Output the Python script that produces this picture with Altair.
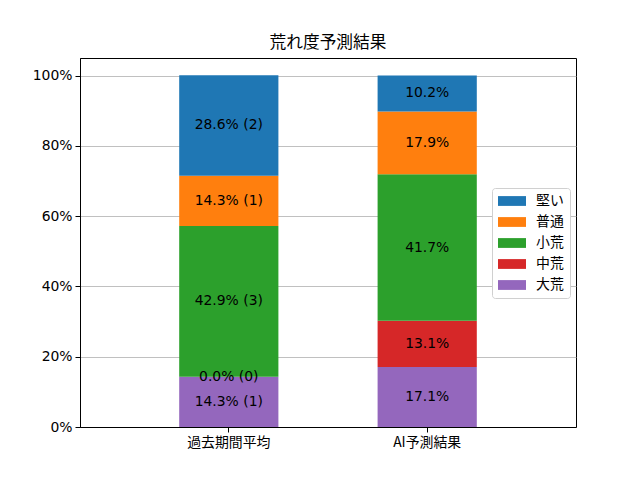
import altair as alt
import pandas as pd

categories = ["過去期間平均", "AI予測結果"]
levels = ["大荒", "中荒", "小荒", "普通", "堅い"]  # bottom to top
legend_order = ["堅い", "普通", "小荒", "中荒", "大荒"]
colors = ["#1f77b4", "#ff7f0e", "#2ca02c", "#d62728", "#9467bd"]

past_pct = [14.3, 0.0, 42.9, 14.3, 28.6]
past_count = [1, 0, 3, 1, 2]
ai_pct = [17.1, 13.1, 41.7, 17.9, 10.2]

rows = []
for i, lv in enumerate(levels):
    rows.append({"cat": categories[0], "level": lv, "ord": i,
                 "pct": past_pct[i], "label": f"{past_pct[i]:.1f}% ({past_count[i]})"})
for i, lv in enumerate(levels):
    rows.append({"cat": categories[1], "level": lv, "ord": i,
                 "pct": ai_pct[i], "label": f"{ai_pct[i]:.1f}%"})
df = pd.DataFrame(rows)

FONT = "DejaVu Sans, Noto Sans CJK JP"
JP = "Noto Sans CJK JP, DejaVu Sans"

base = alt.Chart(df).transform_calculate(
    frac="datum.pct / 100"
).transform_stack(
    stack="frac", groupby=["cat"], sort=[alt.SortField("ord", order="ascending")],
    as_=["y0", "y1"]
).transform_calculate(
    mid="(datum.y0 + datum.y1) / 2"
)

xenc = alt.X("cat:N", sort=categories,
             scale=alt.Scale(paddingInner=0.5, paddingOuter=0.5),
             axis=alt.Axis(title=None, labelAngle=0, labelFont=JP, labelFontSize=13.9,
                           labelColor="black", tickColor="black", tickSize=5,
                           domainColor="black", bandPosition=0.5, grid=False,
                           labelPadding=3))

bars = base.mark_bar().encode(
    x=xenc,
    y=alt.Y("y0:Q", scale=alt.Scale(domain=[0, 1.05], nice=False, zero=True),
            axis=alt.Axis(title=None, values=[0, 0.2, 0.4, 0.6, 0.8, 1.0], format=".0%",
                          labelFont="DejaVu Sans", labelFontSize=13.9, labelColor="black",
                          tickColor="black", tickSize=5, domainColor="black",
                          grid=True, gridColor="#b0b0b0", gridWidth=0.8, labelPadding=3)),
    y2="y1:Q",
    color=alt.Color("level:N",
                    scale=alt.Scale(domain=legend_order, range=colors),
                    legend=alt.Legend(title=None, orient="none", legendX=412, legendY=130,
                                      labelFont=JP, labelFontSize=13.9, labelColor="black",
                                      symbolType="M-2,-0.7L2,-0.7L2,0.7L-2,0.7Z",
                                      symbolSize=196, symbolStrokeWidth=0,
                                      symbolOpacity=1, symbolOffset=7,
                                      rowPadding=7, padding=6,
                                      fillColor="white", strokeColor="#d0d0d0",
                                      cornerRadius=3, labelOffset=17)),
)

text = base.mark_text(font=FONT, fontSize=13.9, color="black").encode(
    x=alt.X("cat:N", sort=categories),
    y=alt.Y("mid:Q"),
    text="label:N",
)

chart = (bars + text).properties(
    width=496, height=369,
    title=alt.TitleParams("荒れ度予測結果", font=JP, fontSize=16.7, fontWeight="normal",
                          color="black", offset=6),
    autosize=alt.AutoSizeParams(type="none"),
    padding={"left": 72, "top": 50, "right": 56, "bottom": 45},
).configure_view(stroke="black", strokeWidth=1)

chart.save("out.html", embed_options={"renderer": "svg", "actions": False})
